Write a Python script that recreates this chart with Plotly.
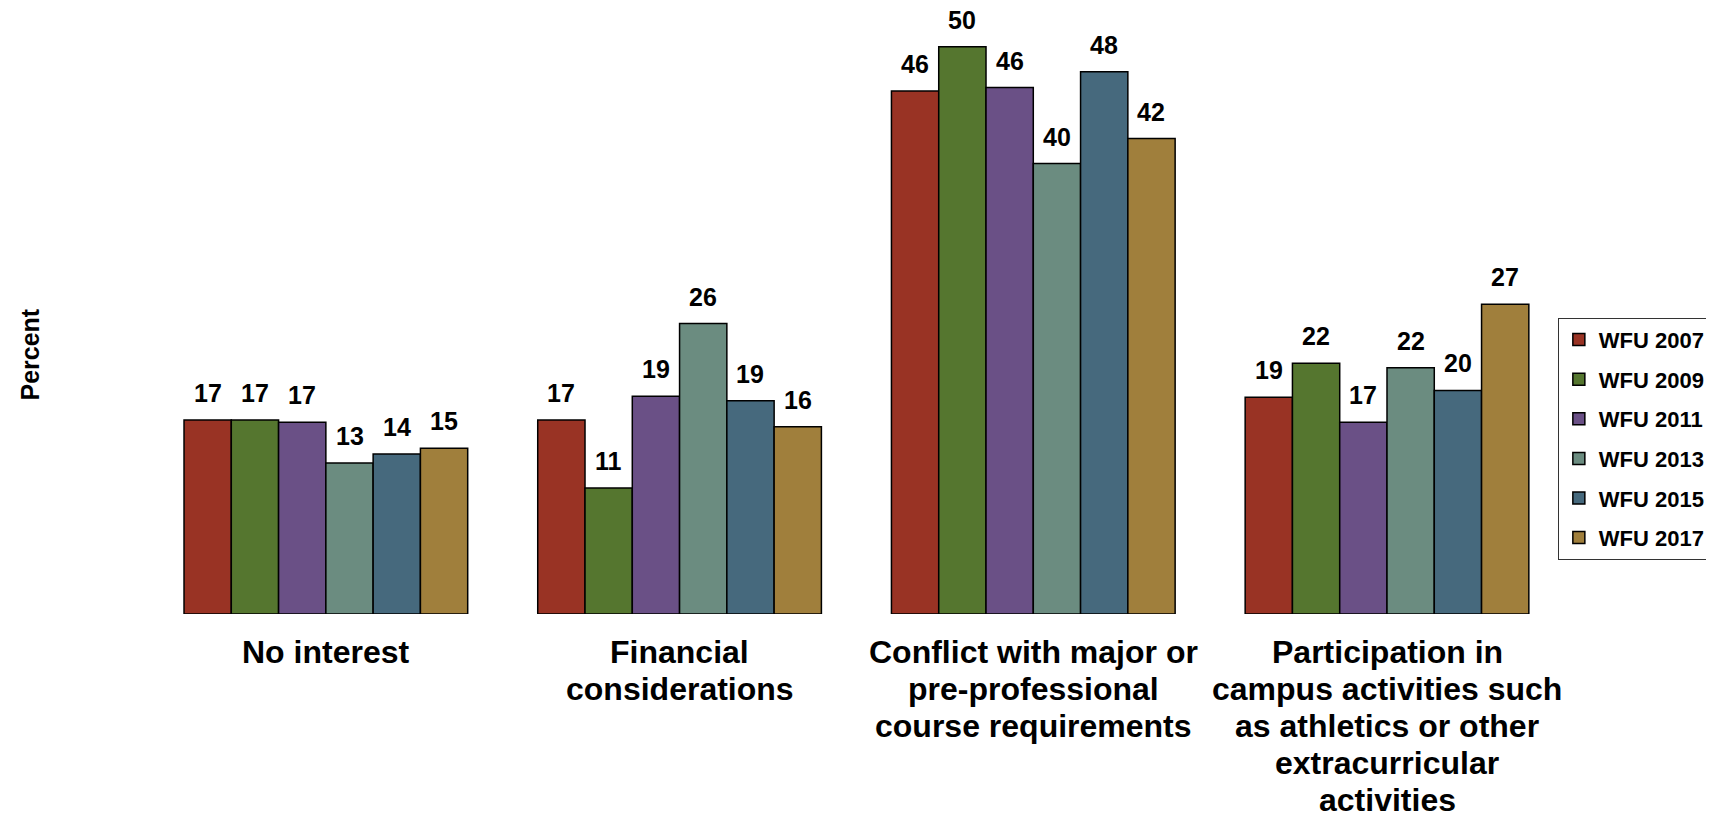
import plotly.graph_objects as go

categories = ["No interest", "Financial considerations",
              "Conflict with major or pre-professional course requirements",
              "Participation in campus activities such as athletics or other extracurricular activities"]
category_lines = [
    ["No interest"],
    ["Financial", "considerations"],
    ["Conflict with major or", "pre-professional", "course requirements"],
    ["Participation in", "campus activities such", "as athletics or other", "extracurricular", "activities"],
]
series_names = ["WFU 2007", "WFU 2009", "WFU 2011", "WFU 2013", "WFU 2015", "WFU 2017"]
wfu_2007 = [17.1, 17.1, 46.1, 19.1]
wfu_2009 = [17.1, 11.1, 50.0, 22.1]
wfu_2011 = [16.9, 19.2, 46.4, 16.9]
wfu_2013 = [13.3, 25.6, 39.7, 21.7]
wfu_2015 = [14.1, 18.8, 47.8, 19.7]
wfu_2017 = [14.6, 16.5, 41.9, 27.3]
series_values = [wfu_2007, wfu_2009, wfu_2011, wfu_2013, wfu_2015, wfu_2017]
colors = ["#993324", "#55762F", "#6A5086", "#6B8C80", "#46697D", "#A07F3C"]

FONT = "Arial, Liberation Sans, sans-serif"
bargap = 0.198
n = len(series_names)
bw = (1 - bargap) / n

fig = go.Figure()
for j, (name, vals, col) in enumerate(zip(series_names, series_values, colors)):
    fig.add_trace(go.Bar(
        name=name, x=categories, y=vals,
        marker=dict(color=col, line=dict(color="#000000", width=1.5)),
        legendgroup=name,
    ))
    for i, v in enumerate(vals):
        fig.add_annotation(
            x=i + (j - (n - 1) / 2) * bw, y=v, xref="x", yref="y",
            text="<b>%d</b>" % round(v), showarrow=False,
            yanchor="middle", yshift=27,
            font=dict(family=FONT, size=25, color="#000000"),
        )

for i, lines in enumerate(category_lines):
    for k, line in enumerate(lines):
        fig.add_annotation(
            x=i, y=0, xref="x", yref="y", text="<b>%s</b>" % line,
            showarrow=False, yanchor="middle", yshift=-(38 + 37 * k),
            font=dict(family=FONT, size=32, color="#000000"),
        )

fig.add_annotation(
    x=-0.084, y=0.44, xref="paper", yref="paper", text="<b>Percent</b>",
    textangle=-90, showarrow=False, xanchor="center", yanchor="middle",
    font=dict(family=FONT, size=25, color="#000000"),
)

fig.update_layout(
    width=1714, height=813,
    barmode="group", bargap=bargap, bargroupgap=0,
    plot_bgcolor="white", paper_bgcolor="white",
    margin=dict(l=141, r=157, t=16, b=207),
    xaxis=dict(showticklabels=False, showgrid=False, zeroline=False, showline=False),
    yaxis=dict(range=[0, 52], showticklabels=False, showgrid=False, zeroline=False, showline=False),
    legend=dict(
        x=1.103, xanchor="right", y=0.502, yanchor="top",
        font=dict(family=FONT, size=22, color="#000000", weight="bold"),
        bordercolor="#333333", borderwidth=1, bgcolor="white",
        tracegroupgap=8, traceorder="grouped",
    ),
    showlegend=True,
)

fig.write_html("out.html")
